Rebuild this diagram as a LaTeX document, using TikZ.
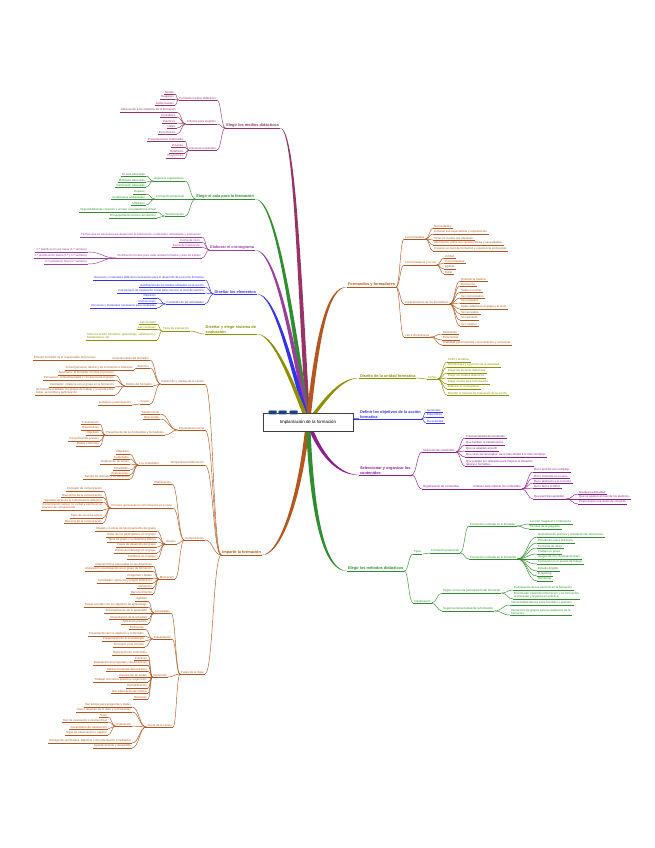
\documentclass[tikz,border=0pt]{standalone}
\usepackage{fontspec}
\setmainfont{Liberation Sans}
\usetikzlibrary{calc,backgrounds}
\definecolor{cA}{HTML}{993366}
\definecolor{cG}{HTML}{2F8F2F}
\definecolor{cP}{HTML}{9B3D9B}
\definecolor{cB}{HTML}{3333EE}
\definecolor{cO}{HTML}{8F8F00}
\definecolor{cR}{HTML}{B4561E}
\definecolor{cV}{HTML}{8E1E8E}
\colorlet{bc}{black}
\tikzset{
 tp/.style={font=\fontsize{2.9}{3.3}\selectfont, text=bc, inner xsep=1pt, inner ysep=0.45pt, align=left},
 mt/.style={font=\fontsize{3.9}{4.6}\selectfont\bfseries, text=bc, inner xsep=0.8pt, inner ysep=0.6pt, align=left},
 ul/.style={draw=bc, line width=0.35pt},
 cn/.style={draw=bc, line width=0.45pt},
}
\newcommand\NL[4][tp]{\node[#1,anchor=south east] (#2) at (#3) {#4}; \draw[ul] (#2.south west) -- (#2.south east);}
\newcommand\NR[4][tp]{\node[#1,anchor=south west] (#2) at (#3) {#4}; \draw[ul] (#2.south west) -- (#2.south east);}
\newcommand\CL[2]{\draw[cn] let \p1=(#1.south west), \p2=(#2.south east) in (\p1) .. controls ({0.5*\x1+0.5*\x2},\y1) and ({0.5*\x1+0.5*\x2},\y2) .. (\p2);}
\newcommand\CR[2]{\draw[cn] let \p1=(#1.south east), \p2=(#2.south west) in (\p1) .. controls ({0.5*\x1+0.5*\x2},\y1) and ({0.5*\x1+0.5*\x2},\y2) .. (\p2);}
\newcommand\CLs[2]{\foreach \cc in {#2}{\CL{#1}{\cc}}}
\newcommand\CRs[2]{\foreach \cc in {#2}{\CR{#1}{\cc}}}
% #1 colour, #2 start, #3 #4 first control, #5 #6 second control, #7 end, #8 #9 offset of second control
\newcommand\MB[9]{\fill[#1] ($(#2)+(-2.2,0)$) .. controls ({#3-2.0},#4) and ({#5+#8},{#6+#9}) .. (#7) .. controls ({#5-#8},{#6-#9}) and ({#3+2.0},#4) .. ($(#2)+(2.2,0)$) -- cycle;}
\begin{document}
\begin{tikzpicture}[x=1pt,y=-1pt]
\begin{pgfonlayer}{background}
\fill[white] (0,0) rectangle (655,848);
\end{pgfonlayer}
\useasboundingbox (0,0) rectangle (655,848);

\node[draw=black!75, line width=0.6pt, fill=white, minimum width=90pt, minimum height=18pt, inner sep=0pt, font=\fontsize{4.4}{5}\selectfont] (ctr) at (308,422) {Implantación de la formación};
\foreach \dx in {6,16,27} \draw[fill={rgb,255:red,31;green,63;blue,127}, draw={rgb,255:red,80;green,128;blue,190}, line width=0.4pt, rounded corners=0.6pt] ($(ctr.north west)+(\dx,-2)$) rectangle ++(8,3.5);

% ---------------- Elegir los medios didacticos
\colorlet{bc}{cA}
\NL[mt]{mA}{280,128}{Elegir los medios didácticos}
\NL{a1}{217,100}{Formatos medios didácticos}
\NL{a2}{217,124}{Criterios para elegirlos}
\NL{a3}{217,150}{Recursos existentes}
\NL{a11}{175,94}{Sonido}
\NL{a12}{175,99}{Imágenes}
\NL{a13}{175,105}{Audiovisuales}
\NL{a21}{177,112}{Adecuación a los objetivos de la formación}
\NL{a22}{177,117}{Accesibles.}
\NL{a23}{177,123}{Prácticos.}
\NL{a24}{177,128}{Útiles.}
\NL{a25}{177,134}{Económicos.}
\NL{a31}{185,141}{Presentaciones multimedia.}
\NL{a32}{185,147}{Pizarras.}
\NL{a33}{185,153}{Rotafolios.}
\NL{a34}{185,158}{Proyectores.}
\CLs{mA}{a1,a2,a3}
\CLs{a1}{a11,a12,a13}
\CLs{a2}{a21,a22,a23,a24,a25}
\CLs{a3}{a31,a32,a33,a34}

% ---------------- Elegir el aula
\colorlet{bc}{cG}
\NL[mt]{mG}{255,199}{Elegir el aula para la formación}
\NL{g1}{185,181}{Aspectos ergonómicos}
\NL{g2}{185,199}{Formación presencial}
\NL{g3}{185,216}{Teleformación}
\NL{g11}{146,176}{El aula adecuada}
\NL{g12}{146,182}{Mobiliario adecuado}
\NL{g13}{146,187}{Iluminación adecuada}
\NL{g21}{146,194}{Espacio}
\NL{g22}{146,199}{Condiciones ambientales}
\NL{g23}{146,205}{Mobiliario}
\NL{g31}{157,212}{Disponibilidad de conexión y acceso a la plataforma virtual}
\NL{g32}{157,218}{El equipamiento técnico del alumno}
\CLs{mG}{g1,g2,g3}
\CLs{g1}{g11,g12,g13}
\CLs{g2}{g21,g22,g23}
\CLs{g3}{g31,g32}

% ---------------- Elaborar el cronograma
\colorlet{bc}{cP}
\NL[mt]{mP}{255,250}{Elaborar el cronograma}
\NL{p1}{202,237}{Tiempo que se necesita para desarrollar la información: contenidos, actividades y evaluación}
\NL{p2}{202,242}{Fecha de inicio.}
\NL{p3}{202,247}{Fecha de finalización.}
\NL{p4}{202,258}{Distribución horaria para cada unidad formativa y plan de trabajo}
\NL{p41}{88,252}{1.ª planificación por fases (1.ª semana)}
\NL{p42}{88,258}{2.ª planificación diaria (2.ª y 3.ª semana)}
\NL{p43}{88,264}{3.ª evaluación final (4.ª semana)}
\CLs{mP}{p1,p2,p3,p4}
\CLs{p4}{p41,p42,p43}

% ---------------- Disenar los elementos
\colorlet{bc}{cB}
\NL[mt]{mB}{257,294}{Diseñar los elementos}
\NL{b1}{205,280}{Recursos y materiales didácticos necesarios para el desarrollo de la acción formativa}
\NL{b2}{205,287}{Justificación de los medios utilizados en la acción}
\NL{b3}{205,293}{Cuestionario de evaluación inicial para conocer el nivel del alumno}
\NL{b4}{205,304}{Contenido de las actividades}
\NL{b41}{157,298}{Objetivos}
\NL{b42}{157,303}{Instrucciones}
\NL{b43}{157,308}{Recursos y materiales necesarios para realizarlas}
\CLs{mB}{b1,b2,b3,b4}
\CLs{b4}{b41,b42,b43}

% ---------------- Disenar y elegir sistema de evaluacion
\colorlet{bc}{cO}
\NL[mt]{mO}{257,334}{Diseñar y elegir sistema de\\evaluación}
\NL{o1}{190,331}{Tipos de evaluación}
\NL{o11}{157,324}{Las iniciales}
\NL{o12}{157,329}{Las continuas}
\NL{o13}{157,340}{Sobre la acción formativa: aprendizaje, satisfacción y\\transferencia, etc.}
\CL{mO}{o1}
\CLs{o1}{o11,o12,o13}

% ---------------- Impartir la formacion
\colorlet{bc}{cR}
\NL[mt]{mR}{262,555}{Impartir la formación}
\NL{r1}{205,384}{Desarrollo y manejo de la sesión}
\NL{r2}{205,430}{Presentación inicial}
\NL{r3}{205,465}{Temporalización/Duración}
\NL{r4}{205,540}{Comunicación}
\NL{r5}{205,674}{Fases de la clase}
\CLs{mR}{r1,r2,r3,r4,r5}
% r1
\NL{r11}{150,360}{Características del formador}
\NL{r111}{97,360}{El buen formador es el responsable del proceso}
\NL{r12}{150,368}{Alumnos}
\NL{r121}{134,370}{A nivel personal, laboral y de motivación e intereses}
\NL{r13}{153,386}{Estilos del formador}
\NL{r131}{115,375}{Autoritario: el formador controla el proceso}
\NL{r132}{115,380}{Persuasivo: actitud favorable y cercana hacia el grupo}
\NL{r133}{115,387}{Facilitador: colabora con el grupo en la formación}
\NL{r134}{115,395}{Se fomenta el debate, los grupos de trabajo y la ayuda entre\\todos; se facilita la participación.}
\NL{r14}{150,404}{Grupo}
\NL{r141}{132,405}{Cohesión y participación}
\CLs{r1}{r11,r12,r13,r14}
\CL{r11}{r111}\CL{r12}{r121}\CL{r14}{r141}
\CLs{r13}{r131,r132,r133,r134}
% r2
\NL{r21}{160,414}{Saludo inicial}
\NL{r22}{160,419}{Bienvenida}
\NL{r23}{165,435}{Presentación de los formandos y formadores}
\NL{r231}{100,424}{Presentación}
\NL{r232}{100,430}{Expectativas}
\NL{r233}{100,435}{Objetivos}
\NL{r234}{100,441}{Conocimientos previos}
\NL{r235}{100,446}{Dudas y temores}
\CLs{r2}{r21,r22,r23}
\CLs{r23}{r231,r232,r233,r234,r235}
% r3
\NL{r31}{160,465}{Los contenidos}
\NL{r311}{130,454}{Objetivos}
\NL{r312}{130,459}{Contenidos}
\NL{r313}{130,464}{Explicación de temas}
\NL{r314}{130,470}{Actividades}
\NL{r315}{130,475}{Evaluaciones}
\NL{r316}{130,479}{Tiempo de reflexión y de feedback}
\CL{r3}{r31}
\CLs{r31}{r311,r312,r313,r314,r315,r316}
% r4
\NL{r41}{172,484}{Planificación}
\NL{r42}{173,508}{Proceso general de la comunicación en el aula}
\NL{r421}{103,491}{Concepto de comunicación}
\NL{r422}{103,497}{Elementos de la comunicación}
\NL{r423}{103,502}{Características de la comunicación didáctica}
\NL{r424}{103,510}{Comunicación verbal, no verbal y escrita en el\\proceso de comunicación}
\NL{r425}{103,518}{Tipos de escucha activa}
\NL{r426}{103,523}{Barreras de la comunicación}
\NL{r43}{177,544}{Grupos}
\NL{r431}{157,531}{Reglas y normas de funcionamiento del grupo}
\NL{r432}{157,537}{Roles de los participantes en el grupo}
\NL{r433}{157,542}{Tipos de grupo y su dinámica interna}
\NL{r434}{157,547}{Fases de desarrollo del grupo}
\NL{r435}{157,553}{Estilos de liderazgo en el grupo}
\NL{r436}{157,559}{Conflictos en el grupo}
\NL{r44}{175,579}{Motivación}
\NL{r441}{153,566}{Intervenciones adecuadas en las dinámicas}
\NL{r442}{153,571}{Motivación y participación en el grupo de formación}
\NL{r443}{153,578}{Preguntas y dudas}
\NL{r444}{153,583}{Actividades, ejercicios y juegos didácticos}
\NL{r445}{153,588}{Refuerzos}
\NL{r446}{153,594}{Reconocimiento}
\CLs{r4}{r41,r42,r43,r44}
\CLs{r42}{r421,r422,r423,r424,r425,r426}
\CLs{r43}{r431,r432,r433,r434,r435,r436}
\CLs{r44}{r441,r442,r443,r444,r445,r446}
% r5
\NL{r51}{171,613}{Actividades}
\NL{r511}{148,601}{Agilidad}
\NL{r512}{148,607}{Tareas acordes con los objetivos de aprendizaje}
\NL{r513}{148,613}{Sistematización de lo aprendido}
\NL{r514}{148,619}{Presentación de la actividad}
\NL{r515}{148,624}{Aplicación práctica}
\NL{r52}{172,639}{Presentación}
\NL{r521}{145,629}{El docente}
\NL{r522}{145,636}{Presentación de los objetivos y contenidos}
\NL{r523}{145,641}{Presentación de la metodología}
\NL{r524}{145,647}{El horario y las normas}
\NL{r53}{168,677}{Desarrollo}
\NL{r531}{148,655}{Explicación de contenidos}
\NL{r532}{148,660}{Prácticas}
\NL{r533}{148,665}{Realización de preguntas y de dinámicas}
\NL{r534}{148,671}{Utilizar el método demostrativo}
\NL{r535}{148,677}{Resolución de dudas}
\NL{r536}{148,682}{Trabajar con casos prácticos o ejercicios}
\NL{r537}{148,688}{Ejemplificación}
\NL{r538}{148,693}{Dar información de retorno}
\NL{r539}{148,699}{Resumen}
\NL{r54}{173,727}{Cierre de la sesión}
\NL{r541}{132,707}{Dar tiempo para preguntas y dudas}
\NL{r542}{132,712}{Hacer resumen de lo visto y conclusiones}
\NL{r543}{132,726}{Evaluación}
\NL{r5431}{108,717}{Tests}
\NL{r5432}{108,722}{Test de evaluación o examen final}
\NL{r5433}{108,729}{Cuestionario de satisfacción}
\NL{r5434}{108,735}{Hojas de observación o registro}
\NL{r544}{132,743}{Entrega de certificados, diplomas y documentación acreditativa}
\NL{r545}{132,748}{Agradecimiento y despedida}
\CLs{r5}{r51,r52,r53,r54}
\CLs{r51}{r511,r512,r513,r514,r515}
\CLs{r52}{r521,r522,r523,r524}
\CLs{r53}{r531,r532,r533,r534,r535,r536,r537,r538,r539}
\CLs{r54}{r541,r542,r543,r544,r545}
\CLs{r543}{r5431,r5432,r5433,r5434}

% ---------------- Formandos y formadores
\colorlet{bc}{cR}
\NR[mt]{mF}{347,287}{Formandos y formadores}
\NR{f1}{404,239}{Los formandos}
\NR{f2}{404,265}{Los formadores y su rol}
\NR{f3}{404,304}{Características de los formadores}
\NR{f4}{404,337}{Las 3 dimensiones}
\NR{f11}{433,228}{Necesidades.}
\NR{f12}{433,234}{Conocer sus expectativas y experiencias.}
\NR{f13}{433,240}{Tener en cuenta sus intereses.}
\NR{f14}{433,245}{Información sobre sus características y necesidades.}
\NR{f15}{433,251}{Conocer su nivel de formación y experiencia profesional.}
\NR{f21}{444,258}{Actitud.}
\NR{f22}{444,263}{Conocimientos.}
\NR{f23}{444,269}{Aptitud.}
\NR{f24}{444,274}{Estilo.}
\NR{f31}{460,281}{Dominar la materia.}
\NR{f32}{460,286}{Motivación.}
\NR{f33}{460,292}{Saber escuchar.}
\NR{f34}{460,298}{Ser comunicativo.}
\NR{f35}{460,303}{Ser empático.}
\NR{f36}{460,309}{Saber adaptarse al grupo y al nivel.}
\NR{f37}{460,314}{Ser accesible.}
\NR{f38}{460,320}{Ser paciente.}
\NR{f39}{460,326}{Ser creativo.}
\NR{f41}{442,334}{Motivación.}
\NR{f42}{442,340}{Experiencia.}
\NR{f43}{442,345}{Habilidad para transmitir conocimientos y comunicar.}
\CRs{mF}{f1,f2,f3,f4}
\CRs{f1}{f11,f12,f13,f14,f15}
\CRs{f2}{f21,f22,f23,f24}
\CRs{f3}{f31,f32,f33,f34,f35,f36,f37,f38,f39}
\CRs{f4}{f41,f42,f43}

% ---------------- Diseno de la unidad formativa
\colorlet{bc}{cO}
\NR[mt]{mD}{359,378}{Diseño de la unidad formativa}
\NR{d1}{427,379}{Fichas}
\NR{d11}{447,362}{Perfil y temática.}
\NR{d12}{447,367}{Metodología y ejecución de la actividad.}
\NR{d13}{447,373}{Elegir las técnicas didácticas.}
\NR{d14}{447,378}{Elegir los medios didácticos.}
\NR{d15}{447,384}{Elegir el aula para la formación.}
\NR{d16}{447,389}{Elaborar el cronograma.}
\NR{d17}{447,395}{Diseñar el sistema de evaluación de la acción.}
\CR{mD}{d1}
\CRs{d1}{d11,d12,d13,d14,d15,d16,d17}

% ---------------- Definir los objetivos
\colorlet{bc}{cB}
\NR[mt]{mJ}{359,419}{Definir los objetivos de la acción\\formativa}
\NR{j1}{426,412}{Generales.}
\NR{j2}{426,417}{Específicos.}
\NR{j3}{426,423}{De actividad.}
\CRs{mJ}{j1,j2,j3}

% ---------------- Seleccionar y organizar los contenidos
\colorlet{bc}{cV}
\NR[mt]{mV}{359,475}{Seleccionar y organizar los\\contenidos}
\NR{v1}{422,452}{Selección de contenidos}
\NR{v2}{422,489}{Organización de contenidos}
\NR{v11}{465,438}{Transversalidad del contenido.}
\NR{v12}{465,445}{Que faciliten la transferencia.}
\NR{v13}{465,451}{Que se adapten al perfil.}
\NR{v14}{465,457}{Que sean secuenciados: de lo más simple a lo más complejo.}
\NR{v15}{465,466}{Que puedan ser utilizados para mejorar la situación\\laboral o formativa.}
\NR{v21}{472,489}{Criterios para ordenar los contenidos}
\NR{v211}{533,472}{De lo sencillo a lo complejo.}
\NR{v212}{533,478}{De lo conocido a lo nuevo.}
\NR{v213}{533,483}{De lo abstracto a lo concreto.}
\NR{v214}{533,488}{De lo fácil a lo difícil.}
\NR{v215}{533,499}{Que permitan aprender:}
\NR{v2151}{578,494}{Graduar la dificultad.}
\NR{v2152}{578,499}{Que se ajusten al nivel de los alumnos.}
\NR{v2153}{578,504}{Proporcionar una visión de conjunto.}
\CRs{mV}{v1,v2}
\CRs{v1}{v11,v12,v13,v14,v15}
\CR{v2}{v21}
\CRs{v21}{v211,v212,v213,v214,v215}
\CRs{v215}{v2151,v2152,v2153}

% ---------------- Elegir los metodos didacticos
\colorlet{bc}{cG}
\NR[mt]{mM}{347,571}{Elegir los métodos didácticos}
\NR{m1}{413,554}{Tipos}
\NR{m11}{430,553}{Formación presencial}
\NR{m111}{469,526}{Formación centrada en el formador}
\NR{m1111}{529,524}{Lección magistral o conferencia.}
\NR{m1112}{529,529}{Técnica de la pregunta.}
\NR{m112}{469,559}{Formación centrada en el formando}
\NR{m1121}{537,537}{Demostración práctica y simulación de situaciones.}
\NR{m1122}{537,543}{Estudio de casos prácticos.}
\NR{m1123}{537,548}{Tormenta de ideas.}
\NR{m1124}{537,554}{Trabajo en grupo.}
\NR{m1125}{537,559}{Juegos de rol y dramatizaciones.}
\NR{m1126}{537,564}{Formación en el puesto de trabajo.}
\NR{m1127}{537,571}{Estudio dirigido.}
\NR{m1128}{537,576}{E-learning.}
\NR{m1129}{537,581}{Mentoring.}
\NR{m2}{413,603}{Clasificación}
\NR{m21}{442,593}{Según el nivel de participación del formando}
\NR{m211}{513,590}{Participación de los alumnos en la formación.}
\NR{m212}{513,599}{El formador transmite información y los formandos\\la procesan y la ponen en práctica.}
\NR{m22}{442,611}{Según la interactividad de la formación}
\NR{m221}{510,605}{Interactividad directa entre formador y alumnos.}
\NR{m222}{510,615}{Interacción de grupos para la realización de la\\formación.}
\CRs{mM}{m1,m2}
\CR{m1}{m11}
\CRs{m11}{m111,m112}
\CRs{m111}{m1111,m1112}
\CRs{m112}{m1121,m1122,m1123,m1124,m1125,m1126,m1127,m1128,m1129}
\CRs{m2}{m21,m22}
\CRs{m21}{m211,m212}
\CRs{m22}{m221,m222}

% ---------------- main branches
\begin{pgfonlayer}{background}
\MB{cA}{ctr.center}{298}{250}{294}{128}{mA.south east}{-0.9}{0.9}
\MB{cG}{ctr.center}{290}{300}{275}{199}{mG.south east}{-0.9}{0.9}
\MB{cP}{ctr.center}{290}{330}{275}{250}{mP.south east}{-0.9}{0.9}
\MB{cB}{ctr.center}{290}{360}{275}{294}{mB.south east}{-0.9}{0.9}
\MB{cO}{ctr.center}{295}{390}{275}{334}{mO.south east}{-0.9}{0.9}
\MB{cR}{ctr.center}{300}{500}{280}{555}{mR.south east}{-0.9}{-0.9}
\MB{cR}{ctr.center}{318}{330}{328}{287}{mF.south west}{-0.9}{-0.9}
\MB{cO}{ctr.center}{325}{400}{340}{378}{mD.south west}{-0.9}{-0.9}
\MB{cV}{ctr.center}{320}{455}{338}{475}{mV.south west}{-0.9}{0.9}
\MB{cG}{ctr.center}{312}{520}{325}{571}{mM.south west}{-0.9}{0.9}
\draw[cB, line width=1.5pt] (ctr.center) .. controls (340,422) and (350,419) .. (mJ.south west);
\end{pgfonlayer}
\end{tikzpicture}
\end{document}
